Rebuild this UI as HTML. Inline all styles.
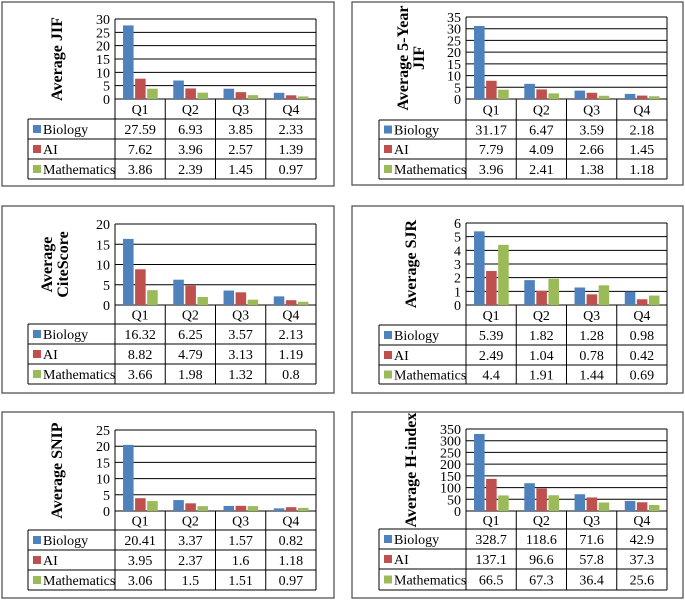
<!DOCTYPE html>
<html><head><meta charset="utf-8">
<style>
body{margin:0;background:#fff;width:685px;height:599px;overflow:hidden;font-family:"Liberation Serif","Times New Roman","DejaVu Serif",serif;}
svg text, svg tspan{font-family:"Liberation Serif","Times New Roman","DejaVu Serif",serif !important;}
</style></head>
<body>
<svg id="s" width="685" height="599" xmlns="http://www.w3.org/2000/svg" font-family="Liberation Serif, serif"></svg>
<script>
const categories = ["Q1","Q2","Q3","Q4"];
const seriesNames = ["Biology","AI","Mathematics"];
const colors = ["#4f81bd","#c0504d","#9bbb59"];

const jifBiology = [27.59,6.93,3.85,2.33];
const jifAI = [7.62,3.96,2.57,1.39];
const jifMath = [3.86,2.39,1.45,0.97];
const jifTicks = [0,5,10,15,20,25,30];

const jif5Biology = [31.17,6.47,3.59,2.18];
const jif5AI = [7.79,4.09,2.66,1.45];
const jif5Math = [3.96,2.41,1.38,1.18];
const jif5Ticks = [0,5,10,15,20,25,30,35];

const citeBiology = [16.32,6.25,3.57,2.13];
const citeAI = [8.82,4.79,3.13,1.19];
const citeMath = [3.66,1.98,1.32,0.8];
const citeTicks = [0,5,10,15,20];

const sjrBiology = [5.39,1.82,1.28,0.98];
const sjrAI = [2.49,1.04,0.78,0.42];
const sjrMath = [4.4,1.91,1.44,0.69];
const sjrTicks = [0,1,2,3,4,5,6];

const snipBiology = [20.41,3.37,1.57,0.82];
const snipAI = [3.95,2.37,1.6,1.18];
const snipMath = [3.06,1.5,1.51,0.97];
const snipTicks = [0,5,10,15,20,25];

const hBiology = [328.7,118.6,71.6,42.9];
const hAI = [137.1,96.6,57.8,37.3];
const hMath = [66.5,67.3,36.4,25.6];
const hTicks = [0,50,100,150,200,250,300,350];

const NS="http://www.w3.org/2000/svg";
const FF="Liberation Serif, Times New Roman, DejaVu Serif, serif";
const svg=document.getElementById('s');
function mk(tag,attrs,parent){const e=document.createElementNS(NS,tag);for(const k in attrs)e.setAttribute(k,attrs[k]);if(tag==='text')e.setAttribute('font-family',FF);(parent||svg).appendChild(e);return e;}

function panel(key,title,series,ticks,L){
  const g=mk('g',{});
  
  
  const box=mk('rect',{x:L.bx,y:L.by,width:L.bw,height:L.bh,fill:'#fff',stroke:'#555','stroke-width':1.3},g);
  
  
  const px0=L.px0,px1=L.px1,pt=L.pt,pb=L.pb;
  const maxV=ticks[ticks.length-1];
  const y=v=>pb-(v/maxV)*(pb-pt);
  const catW=(px1-px0)/categories.length;
  const x=i=>px0+i*catW;
  ticks.forEach(t=>{
    const ln=mk('line',{x1:px0,x2:px1,y1:y(t),y2:y(t),stroke:'#000','stroke-width':1},g);
    
    
    const tx=mk('text',{x:px0-5,y:y(t)+5,'text-anchor':'end','font-size':14},g);
    tx.textContent=t;
    
    
  });
  mk('line',{x1:px0,x2:px0,y1:pt,y2:pb,stroke:'#000'},g);
  mk('line',{x1:px1,x2:px1,y1:pt,y2:pb,stroke:'#000'},g);
  const bw=catW*0.21, gap=catW*0.03, pad=catW*0.16;
  series.forEach((arr,si)=>{
    arr.forEach((v,ci)=>{
      const r=mk('rect',{x:x(ci)+pad+si*(bw+gap),y:y(v),width:bw,height:pb-y(v),fill:colors[si]},g);
      
      
    });
  });
  const lines=title;
  const tg=mk('text',{transform:`translate(${L.tx},${(pt+pb)/2}) rotate(-90)`,'text-anchor':'middle','font-size':16,'font-weight':'bold'},g);
  
  
  lines.forEach((s,i)=>{const ts=mk('tspan',{x:0,dy:i==0?(-(lines.length-1)*8):16},tg);ts.textContent=s;});
  const rows=L.rows;
  const tl=L.tl;
  mk('path',{d:`M${px0},${rows[0]}V${rows[4]}M${px1},${rows[0]}V${rows[4]}M${tl},${rows[1]}V${rows[4]}`,stroke:'#000',fill:'none'},g);
  for(let i=1;i<=4;i++)mk('line',{x1:tl,x2:px1,y1:rows[i],y2:rows[i],stroke:'#000'},g);
  for(let i=1;i<categories.length;i++)mk('line',{x1:x(i),x2:x(i),y1:rows[0],y2:rows[4],stroke:'#000'},g);
  categories.forEach((c,ci)=>{
    const t=mk('text',{x:x(ci)+catW/2,y:(rows[0]+rows[1])/2+5,'text-anchor':'middle','font-size':14},g);
    t.textContent=c;
    
    
  });
  series.forEach((arr,si)=>{
    const cy=(rows[si+1]+rows[si+2])/2;
    const sw=mk('rect',{x:tl+5,y:cy-4,width:8,height:8,fill:colors[si]},g);
    
    
    const lt=mk('text',{x:tl+15,y:cy+5,'font-size':14},g);
    lt.textContent=seriesNames[si];
    
    
    arr.forEach((v,ci)=>{
      const t=mk('text',{x:x(ci)+catW/2,y:cy+5,'text-anchor':'middle','font-size':14},g);
      t.textContent=v;
      
      
    });
  });
}

const LX={bx:2,bw:332,px0:115,px1:316,tl:28};
const RX={bx:352,bw:331,px0:466,px1:667,tl:379};

panel('jif',['Average JIF'],[jifBiology,jifAI,jifMath],jifTicks,
  Object.assign({},LX,{by:2,bh:184,pt:19,pb:99,tx:62,rows:[99,119,139,159,179]}));
panel('jif5',['Average 5-Year','JIF'],[jif5Biology,jif5AI,jif5Math],jif5Ticks,
  Object.assign({},RX,{by:2,bh:183,pt:17,pb:99,tx:416,rows:[99,120,139,159,179]}));
panel('citescore',['Average','CiteScore'],[citeBiology,citeAI,citeMath],citeTicks,
  Object.assign({},LX,{by:206,bh:187,pt:224,pb:305,tx:60,rows:[305,324,344,364,384]}));
panel('sjr',['Average SJR'],[sjrBiology,sjrAI,sjrMath],sjrTicks,
  Object.assign({},RX,{by:206,bh:187,pt:223,pb:305,tx:416,rows:[305,325,345,365,384]}));
panel('snip',['Average SNIP'],[snipBiology,snipAI,snipMath],snipTicks,
  Object.assign({},LX,{by:412,bh:186,pt:430,pb:511,tx:62,rows:[511,530,550,570,590]}));
panel('hindex',['Average H-index'],[hBiology,hAI,hMath],hTicks,
  Object.assign({},RX,{by:412,bh:186,pt:429,pb:511,tx:416,rows:[511,529,549,569,590]}));
</script>
</body></html>
